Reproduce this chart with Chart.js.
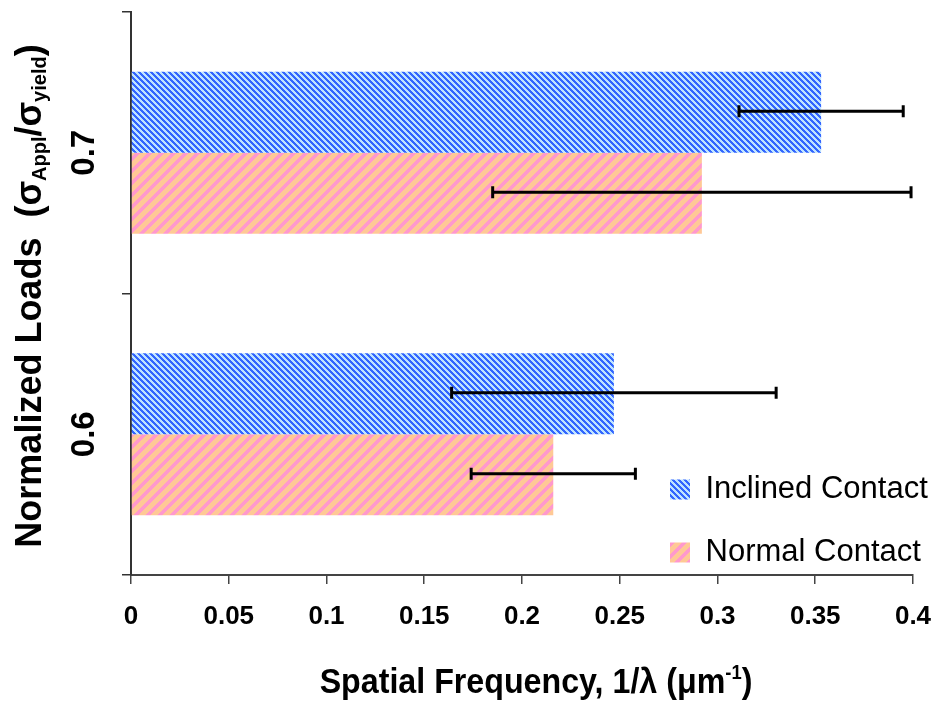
<!DOCTYPE html>
<html>
<head>
<meta charset="utf-8">
<script src="https://cdn.jsdelivr.net/npm/chart.js@4.4.0/dist/chart.umd.min.js"></script>
<style>
  html, body { margin: 0; padding: 0; background: #fff; }
  #wrap { width: 942px; height: 707px; }
</style>
</head>
<body>
<div id="wrap"><canvas id="chart" width="942" height="707"></canvas></div>
<script>
// data (top category first)
const loads = ["0.7", "0.6"];
const seriesNames = ["Inclined Contact", "Normal Contact"];
const inclinedFreq = [0.353, 0.247];
const inclinedErr = [0.042, 0.083];
const normalFreq = [0.292, 0.216];
const normalErr = [0.107, 0.042];
const xMin = 0;
const xMax = 0.4;
const xStep = 0.05;

const SANS = '"Liberation Sans", Arial, sans-serif';

const canvas = document.getElementById("chart");
const ctx = canvas.getContext("2d");

// striped fills like the Excel patterns
function makePattern(size, fg, bg, width, dir) {
  const c = document.createElement("canvas");
  c.width = size;
  c.height = size;
  const g = c.getContext("2d");
  g.fillStyle = bg;
  g.fillRect(0, 0, size, size);
  g.fillStyle = fg;
  for (let y = 0; y < size; y++) {
    for (let x = 0; x < size; x++) {
      const k = dir > 0 ? (x + y) % size : (x - y + size) % size;
      if (k < width) g.fillRect(x, y, 1, 1);
    }
  }
  return ctx.createPattern(c, "repeat");
}

const bluePattern = makePattern(6, "#3366ff", "#bfe4ff", 3, -1);
const pinkPattern = makePattern(12, "#ff99cc", "#ffc896", 5, 1);

const errorBars = {
  id: "errorBars",
  afterDatasetsDraw(chart) {
    const c = chart.ctx;
    const xs = chart.scales.x;
    [inclinedErr, normalErr].forEach((errs, di) => {
      const meta = chart.getDatasetMeta(di);
      const vals = chart.data.datasets[di].data;
      meta.data.forEach((bar, i) => {
        const lo = xs.getPixelForValue(vals[i] - errs[i]);
        const hi = xs.getPixelForValue(vals[i] + errs[i]);
        const y = bar.y - 1;
        c.save();
        c.strokeStyle = "#000";
        c.lineWidth = 3;
        c.beginPath();
        c.moveTo(lo, y); c.lineTo(hi, y);
        c.moveTo(lo, y - 6); c.lineTo(lo, y + 6);
        c.moveTo(hi, y - 6); c.lineTo(hi, y + 6);
        c.stroke();
        c.restore();
      });
    });
  }
};

function drawParts(c, parts, x, y) {
  let total = 0;
  parts.forEach(p => { c.font = p.font; total += c.measureText(p.t).width; });
  let cx = x - total / 2;
  parts.forEach(p => {
    c.font = p.font;
    c.fillText(p.t, cx, y + (p.dy || 0));
    cx += c.measureText(p.t).width;
  });
}

const axisTitles = {
  id: "axisTitles",
  afterDraw(chart) {
    const c = chart.ctx;
    c.save();
    c.fillStyle = "#000";
    c.textBaseline = "alphabetic";
    c.textAlign = "left";
    // x title with superscript, squeezed like the narrow original
    c.save();
    c.translate(536, 693);
    c.scale(0.92, 1);
    drawParts(c, [
      { t: "Spatial Frequency, 1/\u03bb (\u03bcm", font: "bold 35px " + SANS },
      { t: "-1", font: "bold 20px " + SANS, dy: -14 },
      { t: ")", font: "bold 35px " + SANS }
    ], 0, 0);
    c.restore();
    // y title with subscripts
    c.translate(41, 296);
    c.rotate(-Math.PI / 2);
    drawParts(c, [
      { t: "Normalized Loads  (\u03c3", font: "bold 36px " + SANS },
      { t: "Appl", font: "bold 20px " + SANS, dy: 5 },
      { t: "/\u03c3", font: "bold 36px " + SANS },
      { t: "yield", font: "bold 20px " + SANS, dy: 5 },
      { t: ")", font: "bold 36px " + SANS }
    ], 0, 0);
    c.restore();
  }
};

// move the legend into the lower right corner of the plot
const legendPlace = {
  id: "legendPlace",
  afterLayout(chart) {
    const lg = chart.legend;
    if (!lg) return;
    const w = lg.width;
    lg.left = 638;
    lg.right = 638 + w;
    lg.bottom = chart.chartArea.bottom + 25;
  }
};

new Chart(ctx, {
  type: "bar",
  data: {
    labels: loads,
    datasets: [
      {
        label: seriesNames[0],
        data: inclinedFreq,
        backgroundColor: bluePattern,
        borderWidth: 0,
        barPercentage: 1,
        categoryPercentage: 0.575
      },
      {
        label: seriesNames[1],
        data: normalFreq,
        backgroundColor: pinkPattern,
        borderWidth: 0,
        barPercentage: 1,
        categoryPercentage: 0.575
      }
    ]
  },
  options: {
    indexAxis: "y",
    responsive: false,
    animation: false,
    devicePixelRatio: 1,
    layout: { padding: { top: 12, right: 29, left: 0, bottom: 0 } },
    plugins: {
      legend: {
        position: "chartArea",
        align: "end",
        labels: {
          boxWidth: 20,
          boxHeight: 20,
          padding: 32,
          color: "#000",
          font: { family: SANS, size: 31 }
        }
      },
      tooltip: { enabled: false }
    },
    scales: {
      x: {
        type: "linear",
        min: xMin,
        max: xMax,
        afterFit(scale) {
          scale.height = 132;
          scale.paddingLeft = 0;
          scale.paddingRight = 0;
        },
        ticks: {
          stepSize: xStep,
          padding: 17,
          color: "#000",
          font: { family: SANS, size: 26, weight: "bold" },
          callback: v => String(Math.round(v * 100) / 100)
        },
        grid: { drawOnChartArea: false, drawTicks: true, tickLength: 9, color: "#444", lineWidth: 1.5 },
        border: { display: true, color: "#444", width: 2 }
      },
      y: {
        afterFit(scale) {
          scale.width = 131;
          scale.paddingTop = 0;
          scale.paddingBottom = 0;
        },
        ticks: {
          minRotation: 90,
          maxRotation: 90,
          crossAlign: "center",
          padding: 14,
          color: "#000",
          font: { family: SANS, size: 33, weight: "bold" }
        },
        grid: { drawOnChartArea: false, drawTicks: true, tickLength: 9, color: "#333", lineWidth: 1.5, offset: true },
        border: { display: true, color: "#333", width: 2 }
      }
    }
  },
  plugins: [errorBars, axisTitles, legendPlace]
});
</script>
</body>
</html>
